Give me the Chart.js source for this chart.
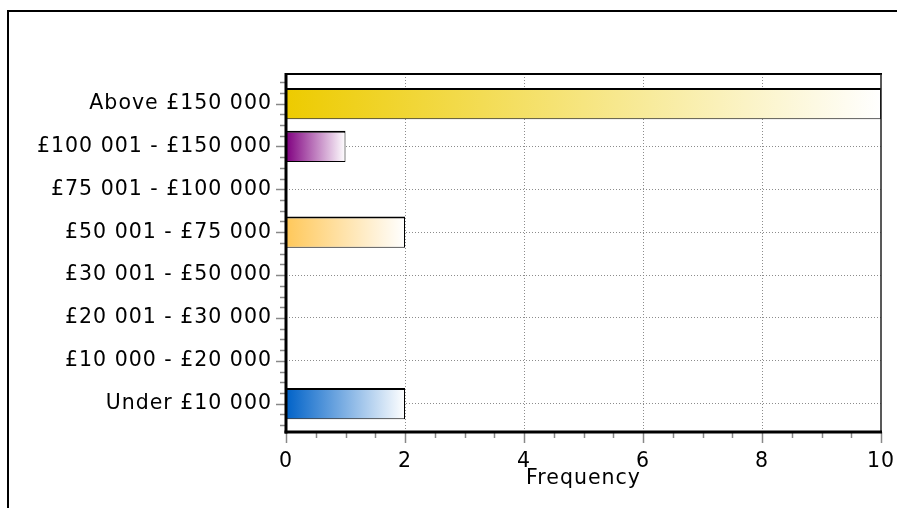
<!DOCTYPE html>
<html><head><meta charset="utf-8">
<script src="https://cdn.jsdelivr.net/npm/chart.js@4.4.1/dist/chart.umd.min.js"></script>
<style>html,body{margin:0;padding:0;background:#fff}#wrap{width:898px;height:508px;position:relative}</style>
</head><body><div id="wrap"><canvas id="c"></canvas></div>
<script>
const categories = ['Under £10 000','£10 000 - £20 000','£20 001 - £30 000','£30 001 - £50 000','£50 001 - £75 000','£75 001 - £100 000','£100 001 - £150 000','Above £150 000'];
const frequencies = [2, 0, 0, 0, 2, 0, 1, 10];
const xTickValues = [0, 2, 4, 6, 8, 10];
const xAxisTitle = 'Frequency';
const barStartColors = ['#0062C8','#0062C8','#0062C8','#0062C8','#FFC85A','#FFC85A','#800080','#EDCB00'];

const FONT = {family: "'DejaVu Sans', sans-serif", size: 20.5};
const GRID = '#8c8c8c';

const frame = {
  id: 'frame',
  beforeLayout(chart){ chart.ctx.letterSpacing = '1px'; },
  beforeDraw(chart){
    const c = chart.ctx;
    c.letterSpacing = '1px';
    c.save();
    c.fillStyle = '#fff'; c.fillRect(0,0,chart.width,chart.height);
    c.strokeStyle = '#000'; c.lineWidth = 2;
    c.beginPath(); c.moveTo(8, chart.height+2); c.lineTo(8, 11); c.lineTo(897, 11); c.stroke();
    c.restore();
  },
  afterDatasetsDraw(chart){
    const c = chart.ctx, a = chart.chartArea, x = chart.scales.x, y = chart.scales.y;
    c.save();
    c.setLineDash([]);
    c.strokeStyle = '#888'; c.lineWidth = 1.5;
    for (let k = -2; k <= 30; k++) {
      const v = k/4, py = Math.round(y.getPixelForValue(v)) + 0.5;
      const len = (k % 4 === 0) ? 10 : 6;
      c.beginPath(); c.moveTo(a.left - len, py); c.lineTo(a.left, py); c.stroke();
    }
    for (let k = 0; k <= 20; k++) {
      const v = k/2, px = Math.round(x.getPixelForValue(v)) + 0.5;
      const len = (k % 4 === 0) ? 11 : 6;
      c.beginPath(); c.moveTo(px, a.bottom); c.lineTo(px, a.bottom + len); c.stroke();
    }
    c.strokeStyle = '#000'; c.lineWidth = 2;
    c.beginPath(); c.moveTo(a.left, a.top); c.lineTo(a.right + 1, a.top); c.stroke();
    c.strokeStyle = '#222'; c.lineWidth = 1.5;
    c.beginPath(); c.moveTo(a.right, a.top); c.lineTo(a.right, a.bottom); c.stroke();
    c.strokeStyle = '#000'; c.lineWidth = 3;
    c.beginPath(); c.moveTo(a.left, a.top - 1); c.lineTo(a.left, a.bottom + 1.5); c.stroke();
    c.beginPath(); c.moveTo(a.left - 1.5, a.bottom); c.lineTo(a.right + 1, a.bottom); c.stroke();
    c.restore();
  }
};

function barFill(ctx){
  const chart = ctx.chart, area = chart.chartArea;
  const col = barStartColors[ctx.dataIndex] || '#888';
  if (!area || ctx.type !== 'data') return col;
  const xs = chart.scales.x;
  const x0 = xs.getPixelForValue(0), x1 = xs.getPixelForValue(ctx.parsed.x);
  if (!(x1 - x0 > 1)) return col;
  const g = chart.ctx.createLinearGradient(x0, 0, x1, 0);
  g.addColorStop(0, col); g.addColorStop(1, '#ffffff');
  return g;
}

new Chart(document.getElementById('c'), {
  type: 'bar',
  data: {
    datasets: [{
      data: categories.map((c, i) => ({x: frequencies[i], y: i})),
      backgroundColor: barFill,
      borderColor: '#000',
      borderWidth: {top: 2, right: 1, bottom: 1, left: 0},
      borderSkipped: false,
      barPercentage: 0.73,
      categoryPercentage: 1
    }]
  },
  options: {
    indexAxis: 'y',
    responsive: true,
    maintainAspectRatio: false,
    animation: false,
    layout: {padding: {left: 0, top: 74, right: 17, bottom: 0}},
    plugins: {legend: {display: false}, tooltip: {enabled: false}},
    scales: {
      y: {
        type: 'linear', min: -0.66, max: 7.69, offset: false,
        afterBuildTicks: s => { s.ticks = categories.map((_, i) => ({value: i})); },
        afterFit: s => { s.width = 286; s.paddingTop = 0; s.paddingBottom = 0; },
        ticks: {font: FONT, color: '#000', padding: 14, autoSkip: false, callback: v => categories[v] ?? ''},
        grid: {drawTicks: false, offset: false, color: GRID, lineWidth: 1},
        border: {display: false, dash: [1, 2]}
      },
      x: {
        type: 'linear', min: 0, max: 10, offset: false,
        afterBuildTicks: s => { s.ticks = xTickValues.map(v => ({value: v})); },
        afterFit: s => { s.height = 76; s.paddingLeft = 0; s.paddingRight = 0; },
        ticks: {font: FONT, color: '#000', padding: 17, autoSkip: false, maxRotation: 0},
        grid: {drawTicks: false, offset: false, lineWidth: 1, color: c => (c.tick && (c.tick.value === 0 || c.tick.value === 10)) ? 'rgba(0,0,0,0)' : GRID},
        border: {display: false, dash: [1, 2]},
        title: {display: true, text: xAxisTitle, font: FONT, color: '#000', padding: {top: 0, bottom: 17}}
      }
    }
  },
  plugins: [frame]
});
</script></body></html>
